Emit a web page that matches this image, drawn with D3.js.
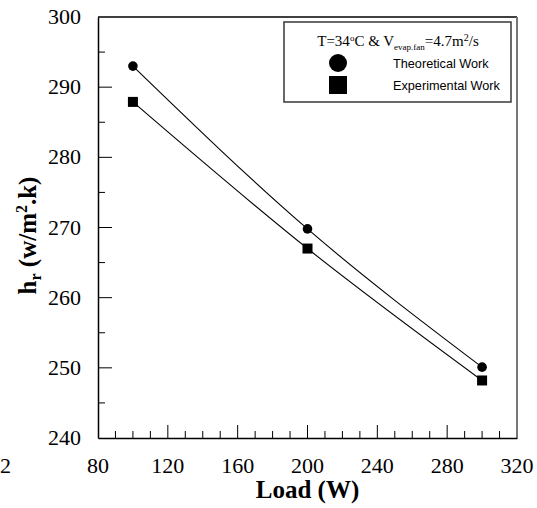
<!DOCTYPE html>
<html>
<head>
<meta charset="utf-8">
<script src="https://cdn.jsdelivr.net/npm/d3@7"></script>
<style>
  body { margin: 0; background: #fff; }
  svg { display: block; }
  .serif { font-family: "Liberation Serif", "DejaVu Serif", serif; }
  .sans { font-family: "Liberation Sans", "DejaVu Sans", sans-serif; }
</style>
</head>
<body>
<script>
// Heat transfer coefficient vs. load
const loads = [100, 200, 300];
const theoretical = [293.0, 269.8, 250.1];
const experimental = [287.9, 267.0, 248.2];
const xTicks = [80, 120, 160, 200, 240, 280, 320];
const yTicks = [240, 250, 260, 270, 280, 290, 300];

const W = 537, H = 508;
const m = { left: 98, right: 20, top: 17, bottom: 70 };

const svg = d3.select("body").append("svg").attr("width", W).attr("height", H);

const x = d3.scaleLinear().domain([80, 320]).range([m.left, W - m.right]);
const y = d3.scaleLinear().domain([240, 300]).range([H - m.bottom, m.top]);

// Frame: top line and right line
svg.append("line").attr("x1", x(80)).attr("x2", x(320)).attr("y1", y(300)).attr("y2", y(300))
  .attr("stroke", "#000").attr("stroke-width", 1.5);
svg.append("line").attr("x1", x(320)).attr("x2", x(320)).attr("y1", y(300)).attr("y2", y(240))
  .attr("stroke", "#777").attr("stroke-width", 2);

// Bottom axis: major and minor inward ticks
const gx = svg.append("g").attr("transform", `translate(0,${y(240)})`);
gx.call(d3.axisBottom(x).tickValues(d3.range(80, 321, 10)).tickSize(0).tickFormat(""));
gx.select(".domain").attr("stroke-width", 1.5);
gx.selectAll(".tick line").remove();
d3.range(80, 321, 10).forEach(v => {
  const major = v % 40 === 0;
  if (v === 80 || v === 320) return;
  gx.append("line").attr("x1", x(v)).attr("x2", x(v)).attr("y1", 0).attr("y2", major ? -13 : -7)
    .attr("stroke", "#000").attr("stroke-width", 1);
});
svg.append("g").selectAll("text").data(xTicks).join("text")
  .attr("class", "serif")
  .attr("x", d => x(d)).attr("y", y(240) + 35)
  .attr("text-anchor", "middle").attr("font-size", 22)
  .text(d => d);

// Left axis
const gy = svg.append("g").attr("transform", `translate(${x(80)},0)`);
gy.call(d3.axisLeft(y).tickValues(d3.range(240, 301, 5)).tickSize(0).tickFormat(""));
gy.select(".domain").attr("stroke-width", 1.5);
d3.range(240, 301, 5).forEach(v => {
  if (v === 240 || v === 300) return;
  const major = v % 10 === 0;
  gy.append("line").attr("x1", 0).attr("x2", major ? 14 : 7).attr("y1", y(v)).attr("y2", y(v))
    .attr("stroke", "#000").attr("stroke-width", 1);
});
svg.append("g").selectAll("text").data(yTicks).join("text")
  .attr("class", "serif")
  .attr("x", x(80) - 17).attr("y", d => y(d) + 7)
  .attr("text-anchor", "end").attr("font-size", 22)
  .text(d => d);

// Label at the bottom-left edge
svg.append("text").attr("class", "serif").attr("x", 0).attr("y", y(240) + 35).attr("font-size", 22).text("2");

// Axis titles
svg.append("text").attr("class", "serif").attr("x", (x(80) + x(320)) / 2).attr("y", 498)
  .attr("text-anchor", "middle").attr("font-weight", "bold").attr("font-size", 25)
  .text("Load (W)");

const yt = svg.append("text").attr("class", "serif")
  .attr("transform", `translate(36,${(y(240) + y(300)) / 2 + 8}) rotate(-90)`)
  .attr("text-anchor", "middle").attr("font-weight", "bold").attr("font-size", 25);
yt.append("tspan").text("h");
yt.append("tspan").attr("font-size", 16).attr("dy", 5).text("r");
yt.append("tspan").attr("dy", -5).text(" (w/m");
yt.append("tspan").attr("font-size", 16).attr("dy", -9).text("2");
yt.append("tspan").attr("dy", 9).text(".k)");

// Curves
const line = d3.line().x(d => x(d[0])).y(d => y(d[1])).curve(d3.curveNatural);
const theo = loads.map((l, i) => [l, theoretical[i]]);
const expe = loads.map((l, i) => [l, experimental[i]]);
[theo, expe].forEach(s => {
  svg.append("path").datum(s).attr("d", line).attr("fill", "none").attr("stroke", "#000").attr("stroke-width", 1.1);
});

svg.append("g").selectAll("circle").data(theo).join("circle")
  .attr("cx", d => x(d[0])).attr("cy", d => y(d[1])).attr("r", 4.8).attr("fill", "#000");
svg.append("g").selectAll("rect").data(expe).join("rect")
  .attr("x", d => x(d[0]) - 5).attr("y", d => y(d[1]) - 5).attr("width", 10).attr("height", 10).attr("fill", "#000");

// Legend
const lg = svg.append("g");
lg.append("rect").attr("x", 284).attr("y", 22).attr("width", 227).attr("height", 80)
  .attr("fill", "#fff").attr("stroke", "#444").attr("stroke-width", 1.6);
const lt = lg.append("text").attr("class", "serif").attr("x", 398).attr("y", 46).attr("text-anchor", "middle")
  .attr("font-size", 15);
lt.append("tspan").text("T=34");
lt.append("tspan").attr("font-size", 9).attr("dy", -5).text("o");
lt.append("tspan").attr("dy", 5).text("C & V");
lt.append("tspan").attr("font-size", 9).attr("dy", 4).text("evap.fan");
lt.append("tspan").attr("dy", -4).text("=4.7m");
lt.append("tspan").attr("font-size", 10).attr("dy", -5).text("2");
lt.append("tspan").attr("dy", 5).text("/s");
lg.append("circle").attr("cx", 338).attr("cy", 63).attr("r", 9).attr("fill", "#000");
lg.append("rect").attr("x", 329).attr("y", 76).attr("width", 18).attr("height", 18).attr("fill", "#000");
lg.append("text").attr("class", "sans").attr("x", 393).attr("y", 68).attr("font-size", 12.7).text("Theoretical Work");
lg.append("text").attr("class", "sans").attr("x", 393).attr("y", 90).attr("font-size", 12.7).text("Experimental Work");
</script>
</body>
</html>
